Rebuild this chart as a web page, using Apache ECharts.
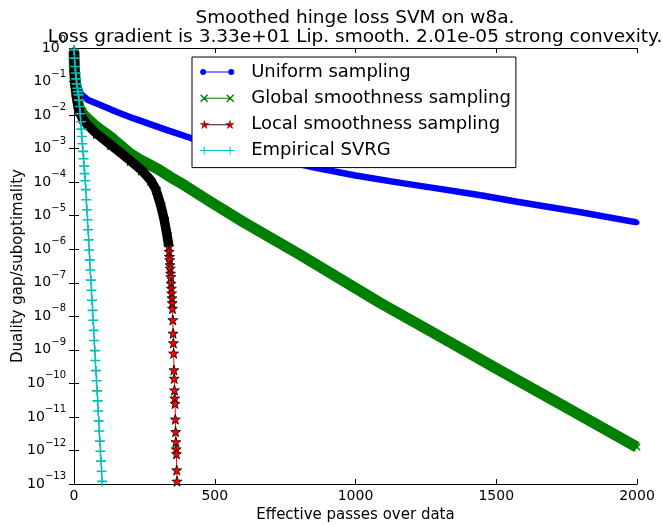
<!DOCTYPE html>
<html><head><meta charset="utf-8">
<script src="https://cdn.jsdelivr.net/npm/echarts@6/dist/echarts.min.js"></script>
<style>html,body{margin:0;padding:0;background:#fff}#c{width:663px;height:525px}</style>
</head><body><div id="c"></div>
<script>
// ---- data ----
const uniformX = [0, 3, 8, 15, 25, 50, 94, 150, 212, 280, 331, 420, 500, 600, 700, 850, 1000, 1160, 1300, 1450, 1574, 1800, 2000];
const uniformY = [0.89, 0.40, 0.178, 0.0708, 0.0417, 0.0282, 0.0200, 0.0126, 0.00794, 0.00501, 0.00355, 0.00200, 0.00138, 8.5e-4, 5.4e-4, 2.75e-4, 1.58e-4, 9.5e-5, 6.3e-5, 4.0e-5, 2.6e-5, 1.26e-5, 6.3e-6];

const globalX = [0, 2, 5, 10, 17, 30, 47, 80, 130, 200, 236, 300, 343, 390, 485, 600, 800, 1088, 1300, 1514, 1750, 2000];
const globalY = [0.794, 0.2, 0.0891, 0.0398, 0.0178, 0.0112, 0.00794, 0.00447, 0.00224, 7.1e-4, 4.6e-4, 2.4e-4, 1.41e-4, 8.3e-5, 2.6e-5, 6.6e-6, 7.1e-7, 2.5e-8, 2.5e-9, 2.4e-10, 1.9e-11, 1.26e-12];

const localX = [0, 2, 5, 10, 17, 30, 47, 80, 130, 200, 240, 272, 290, 307, 320, 330,
  337, 338, 339, 340, 341, 342, 343, 344, 345, 346, 347, 348, 349, 350, 351, 352, 353, 354, 355, 356,
  357, 358, 359, 360, 361, 362, 363, 364, 365, 366];
const localY = [0.79, 0.18, 0.071, 0.032, 0.014, 0.0079, 0.0052, 0.0028, 0.0013, 4.4e-4, 2.3e-4, 1.15e-4, 6.3e-5, 2.2e-5, 7.9e-6, 2.8e-6,
  1.2e-6, 8.5e-7, 6.0e-7, 4.8e-7, 3.4e-7, 2.7e-7, 1.9e-7, 1.5e-7, 9.5e-8, 6.8e-8, 4.9e-8, 3.5e-8, 2.5e-8, 1.7e-8, 7.8e-9, 3.1e-9, 1.6e-9, 7.9e-10, 2.5e-10, 1.4e-10,
  6.3e-11, 3.6e-11, 2.5e-11, 8.5e-12, 3.6e-12, 1.8e-12, 1.1e-12, 7.9e-13, 2.6e-13, 1.2e-13];
const localDenseUntil = 337; // passes where the star markers merge into a solid band

const svrgX = [0, 2, 4, 6, 8, 10, 12, 14, 16, 18, 20, 22, 24, 26, 28, 30, 32, 34, 36, 38, 40, 42, 44, 46, 48, 50,
  52, 54, 56, 58, 60, 62, 64, 66, 68, 70, 72, 74, 76, 78, 80, 82, 84, 86, 88, 90, 92, 94, 96, 98, 100];
const svrgY = [0.89, 0.50, 0.28, 0.18, 0.12, 0.085, 0.063, 0.050, 0.040, 0.028, 0.018, 0.011, 0.0063, 0.0038, 0.0023, 0.0014,
  8.3e-4, 5.0e-4, 3.0e-4, 1.8e-4, 1.1e-4, 6.0e-5, 3.0e-5, 1.5e-5, 7.6e-6, 3.8e-6, 1.9e-6, 9.5e-7, 4.8e-7, 2.4e-7, 1.2e-7,
  6.0e-8, 3.0e-8, 1.5e-8, 7.6e-9, 3.8e-9, 1.9e-9, 9.5e-10, 4.8e-10, 2.4e-10, 1.2e-10, 6.0e-11, 3.0e-11, 1.5e-11, 7.6e-12,
  3.8e-12, 1.9e-12, 9.5e-13, 4.8e-13, 2.4e-13, 1.2e-13];

const seriesNames = ['Uniform sampling', 'Global smoothness sampling', 'Local smoothness sampling', 'Empirical SVRG'];
const titleLines = ['Smoothed hinge loss SVM on w8a.', 'Loss gradient is 3.33e+01 Lip. smooth. 2.01e-05 strong convexity.'];
const xName = 'Effective passes over data';
const yName = 'Duality gap/suboptimality';

// ---- chart ----
const FONT = 'DejaVu Sans';
const zip = (xs, ys) => xs.map((x, i) => [x, ys[i]]);

const STAR = 'path://M0,-45 L10.58,-14.56 L42.8,-13.91 L17.12,5.56 L26.45,36.41 L0,18 L-26.45,36.41 L-17.12,5.56 L-42.8,-13.91 L-10.58,-14.56 Z';
const PLUS = 'path://M0,4.2 H10 V5.8 H0 Z M4.2,0 H5.8 V10 H4.2 Z';

const ICON_DOT = 'path://M13,40 A27,27 0 1 1 67,40 A27,27 0 1 1 13,40 Z M273,40 A27,27 0 1 1 327,40 A27,27 0 1 1 273,40 Z M40,35 L300,35 L300,45 L40,45 Z';
const ICON_X = 'path://M0,10 L10,0 L80,70 L70,80 Z M70,0 L80,10 L10,80 L0,70 Z M260,10 L270,0 L340,70 L330,80 Z M330,0 L340,10 L270,80 L260,70 Z M40,35 L300,35 L300,45 L40,45 Z';
const ICON_PLUS = 'path://M0,35 L80,35 L80,45 L0,45 Z M35,0 L45,0 L45,80 L35,80 Z M260,35 L340,35 L340,45 L260,45 Z M295,0 L305,0 L305,80 L295,80 Z M40,35 L300,35 L300,45 L40,45 Z';
const ICON_STAR = 'path://M43,0 L53.58,30.44 L85.8,31.09 L60.12,50.56 L69.45,81.41 L43,63 L16.55,81.41 L25.88,50.56 L0.2,31.09 L32.42,30.44 Z M303,0 L313.58,30.44 L345.8,31.09 L320.12,50.56 L329.45,81.41 L303,63 L276.55,81.41 L285.88,50.56 L260.2,31.09 L292.42,30.44 Z M43,41 L303,41 L303,48 L43,48 Z';

const yLabel = v => {
  const e = Math.round(Math.log10(v));
  return '{b|10}{s|' + (e < 0 ? '\u2212' + (-e) : String(e)) + '}';
};

const axisLineStyle = { lineStyle: { color: '#000', width: 1 } };
const tickIn = { show: true, inside: true, length: 5, lineStyle: { color: '#000', width: 1 } };

const option = {
  animation: false,
  backgroundColor: '#fff',
  title: {
    text: titleLines.join('\n'),
    left: 355,
    textAlign: 'center',
    top: 8,
    padding: 0,
    textStyle: { fontFamily: FONT, fontSize: 18.5, fontWeight: 'normal', color: '#000', lineHeight: 19.5 }
  },
  grid: { left: 74, right: 26, top: 48, bottom: 41, containLabel: false, outerBoundsMode: 'none' },
  legend: {
    orient: 'vertical', left: 192, top: 57,
    padding: [5, 5, 7, 8],
    itemWidth: 34, itemHeight: 8, itemGap: 6.2,
    selectedMode: false,
    backgroundColor: '#fff', borderColor: '#000', borderWidth: 1, borderRadius: 0,
    textStyle: { fontFamily: FONT, fontSize: 18, color: '#000', lineHeight: 20, padding: [0, 0, 0, 12] },
    data: [
      { name: seriesNames[0], icon: ICON_DOT },
      { name: seriesNames[1], icon: ICON_X },
      { name: seriesNames[2], icon: ICON_STAR, itemStyle: { borderWidth: 0.4, borderColor: '#000' } },
      { name: seriesNames[3], icon: ICON_PLUS }
    ]
  },
  xAxis: [
    {
      type: 'value', min: 0, max: 2000, interval: 500, position: 'bottom',
      name: xName, nameLocation: 'middle', nameGap: 24, nameMoveOverlap: false,
      nameTextStyle: { fontFamily: FONT, fontSize: 15, color: '#000' },
      axisLine: axisLineStyle, axisTick: tickIn, splitLine: { show: false },
      axisLabel: { fontFamily: FONT, fontSize: 14, color: '#000', margin: 5, formatter: v => String(v) }
    },
    {
      type: 'value', min: 0, max: 2000, interval: 500, position: 'top',
      axisLine: axisLineStyle, axisTick: tickIn, splitLine: { show: false },
      axisLabel: { show: false }
    }
  ],
  yAxis: [
    {
      type: 'log', logBase: 10, min: 1e-13, max: 1, interval: 1, splitNumber: 13, position: 'left',
      name: yName, nameLocation: 'middle', nameGap: 48, nameMoveOverlap: false,
      nameTextStyle: { fontFamily: FONT, fontSize: 15, color: '#000' },
      axisLine: axisLineStyle, axisTick: tickIn, splitLine: { show: false }, minorTick: { show: false },
      axisLabel: {
        margin: 8, formatter: yLabel, showMinLabel: true, showMaxLabel: true, hideOverlap: false,
        rich: {
          b: { fontFamily: FONT, fontSize: 14, color: '#000', lineHeight: 25, verticalAlign: 'middle' },
          s: { fontFamily: FONT, fontSize: 10, color: '#000', lineHeight: 10, verticalAlign: 'top' }
        }
      }
    },
    {
      type: 'log', logBase: 10, min: 1e-13, max: 1, interval: 1, splitNumber: 13, position: 'right',
      axisLine: axisLineStyle, axisTick: tickIn, splitLine: { show: false }, minorTick: { show: false },
      axisLabel: { show: false }
    }
  ],
  series: [
    {
      name: seriesNames[0], type: 'line', z: 2, data: zip(uniformX, uniformY),
      symbol: 'circle', symbolSize: 5, showSymbol: true,
      itemStyle: { color: '#0000FF' },
      lineStyle: { color: '#0000FF', width: 6.5, cap: 'butt', join: 'round' },
      emphasis: { disabled: true }
    },
    {
      name: seriesNames[1], type: 'line', z: 3, data: zip(globalX, globalY),
      symbol: PLUS, symbolRotate: 45, symbolSize: 9, showSymbol: true,
      itemStyle: { color: '#008000' },
      lineStyle: { color: '#008000', width: 11, cap: 'butt', join: 'round' },
      emphasis: { disabled: true }
    },
    {
      name: seriesNames[2], type: 'line', z: 4, data: zip(localX, localY),
      symbol: STAR, symbolSize: 10, showSymbol: true,
      itemStyle: { color: '#FF0000', borderColor: '#000', borderWidth: 0.8 },
      lineStyle: { color: '#FF0000', width: 1 },
      emphasis: { disabled: true }
    },
    {
      name: 'local-dense', type: 'line', z: 5,
      data: zip(localX, localY).filter(p => p[0] <= localDenseUntil),
      showSymbol: false, symbol: 'none',
      lineStyle: { color: '#000', width: 9.5, cap: 'butt', join: 'round' },
      emphasis: { disabled: true }, silent: true
    },
    {
      name: seriesNames[3], type: 'line', z: 6, data: zip(svrgX, svrgY),
      symbol: PLUS, symbolSize: 10, showSymbol: true,
      itemStyle: { color: '#00BFBF' },
      lineStyle: { color: '#00BFBF', width: 1 },
      emphasis: { disabled: true }
    }
  ]
};
const chart = echarts.init(document.getElementById('c'), null, { renderer: 'canvas' });
chart.setOption(option);
</script>
</body></html>
